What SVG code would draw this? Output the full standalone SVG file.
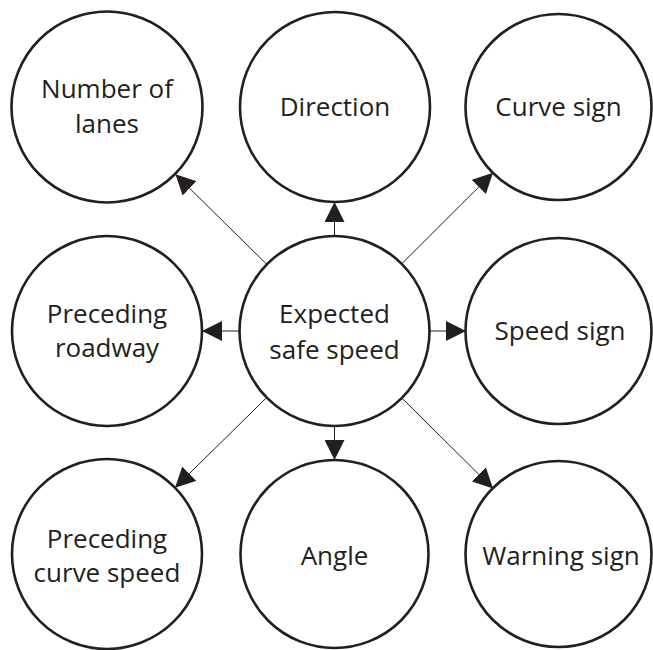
<svg xmlns="http://www.w3.org/2000/svg" width="653" height="650" viewBox="0 0 653 650">
<style>
.n{fill:#fff;stroke:#231f20;stroke-width:2.6}
.t{font-family:"Open Sans","Noto Sans","Liberation Sans",sans-serif;font-size:26px;fill:#231f20;text-anchor:middle}
.c{stroke:#231f20;stroke-width:1;fill:none;marker-end:url(#ah)}
</style>
<defs>
<marker id="ah" markerUnits="userSpaceOnUse" markerWidth="20" markerHeight="20" refX="20" refY="10" orient="auto" viewBox="0 0 20 20">
<path d="M0,0 L20,10 L0,20 Z" fill="#231f20"/>
</marker>
</defs>
<rect width="653" height="650" fill="#fff"/>
<g id="connectors">
<line class="c" x1="334.5" y1="236" x2="334.5" y2="202"/>
<line class="c" x1="334.5" y1="426" x2="334.5" y2="460"/>
<line class="c" x1="239.5" y1="331" x2="202" y2="331"/>
<line class="c" x1="429.5" y1="331" x2="466" y2="331"/>
<line class="c" x1="266.8" y1="264.4" x2="175.4" y2="174.3"/>
<line class="c" x1="401.7" y1="263.8" x2="493" y2="172.8"/>
<line class="c" x1="266.7" y1="397.5" x2="175" y2="487.7"/>
<line class="c" x1="401.8" y1="398" x2="493" y2="488.4"/>
</g>
<g id="center">
<circle class="n" cx="334.5" cy="331" r="95"/>
<text class="t" x="334.5" y="323">Expected</text>
<text class="t" x="334.5" y="359">safe speed</text>
</g>
<g id="lanes">
<circle class="n" cx="107" cy="107" r="95.5"/>
<text class="t" x="107" y="98">Number of</text>
<text class="t" x="107" y="133">lanes</text>
</g>
<g id="direction">
<circle class="n" cx="335" cy="107" r="95"/>
<text class="t" x="335" y="116">Direction</text>
</g>
<g id="curvesign">
<circle class="n" cx="558.5" cy="107" r="93"/>
<text class="t" x="558.5" y="116">Curve sign</text>
</g>
<g id="preceding-roadway">
<circle class="n" cx="107" cy="331" r="95"/>
<text class="t" x="107" y="323">Preceding</text>
<text class="t" x="107" y="357">roadway</text>
</g>
<g id="speedsign">
<circle class="n" cx="558.5" cy="331" r="93"/>
<text class="t" x="560" y="340">Speed sign</text>
</g>
<g id="preceding-curve-speed">
<circle class="n" cx="107" cy="554" r="95"/>
<text class="t" x="107" y="548">Preceding</text>
<text class="t" x="107" y="582">curve speed</text>
</g>
<g id="angle">
<circle class="n" cx="334.5" cy="554" r="94"/>
<text class="t" x="334.5" y="565">Angle</text>
</g>
<g id="warningsign">
<circle class="n" cx="558.5" cy="554" r="93"/>
<text class="t" x="561" y="565">Warning sign</text>
</g>
</svg>
